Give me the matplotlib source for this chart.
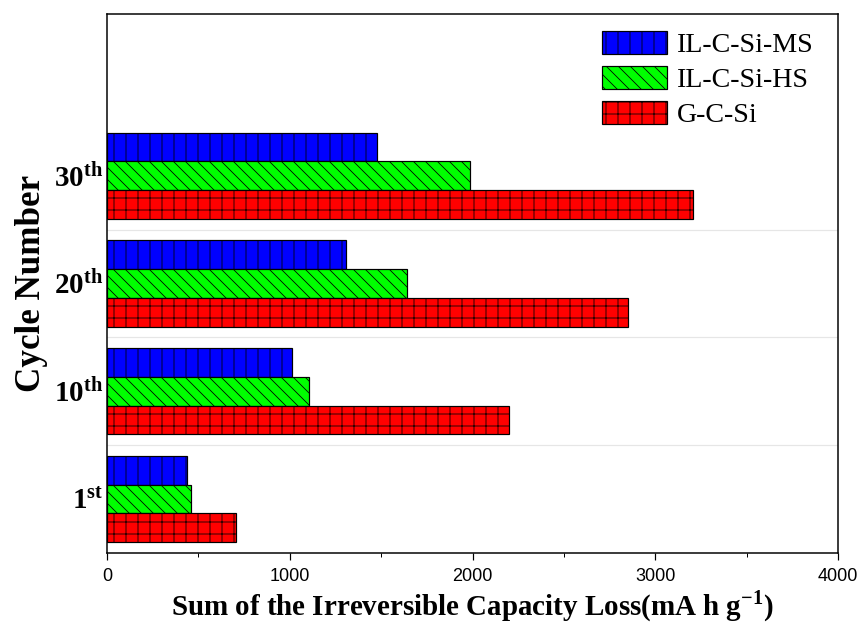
import matplotlib
matplotlib.use("Agg")
import matplotlib.pyplot as plt
import numpy as np

# cycle groups, bottom to top
cycles = ["1", "10", "20", "30"]
suffixes = ["st", "th", "th", "th"]

series_names = ["IL-C-Si-MS", "IL-C-Si-HS", "G-C-Si"]
ms_loss = [438, 1012, 1308, 1477]
hs_loss = [459, 1105, 1642, 1987]
gcsi_loss = [706, 2200, 2851, 3207]

colors = ["#0000ff", "#00ff00", "#ff0000"]
hatches = ["|", "\\\\", "+"]

plt.rcParams["font.family"] = ["Liberation Serif", "DejaVu Serif"]
plt.rcParams["mathtext.fontset"] = "custom"
plt.rcParams["mathtext.rm"] = "Liberation Serif"
plt.rcParams["mathtext.bf"] = "Liberation Serif:bold"
plt.rcParams["hatch.linewidth"] = 0.8
plt.rcParams["hatch.color"] = "black"

DPI = 72
fig = plt.figure(figsize=(866 / DPI, 631 / DPI), dpi=DPI)
ax = fig.add_axes([107 / 866, 78 / 631, 731 / 866, 539 / 631])

y = np.arange(len(cycles))
h = 0.266
for i, (vals, name) in enumerate(zip([ms_loss, hs_loss, gcsi_loss], series_names)):
    ax.barh(y + (1 - i) * h, vals, height=h, color=colors[i], edgecolor="black",
            linewidth=1.2, hatch=hatches[i], label=name, zorder=3)

# light separators between groups
for s in y[:-1] + 0.5:
    ax.axhline(s, color="#e6e6e6", lw=1.2, zorder=1)

ax.set_xlim(0, 4000)
ax.set_ylim(-0.5, 4.5)
ax.set_xticks([0, 1000, 2000, 3000, 4000])
ax.set_xticks([500, 1500, 2500, 3500], minor=True)
ax.tick_params(axis="x", which="major", direction="out", length=7, width=1.2, pad=8)
ax.tick_params(axis="x", which="minor", direction="out", length=4, width=1.0)
for lab in ax.get_xticklabels():
    lab.set_family(["Liberation Sans Narrow", "Liberation Sans"])
    lab.set_fontsize(18)

ax.set_yticks(y)
ax.set_yticklabels([r"$\mathbf{%s^{%s}}$" % (c, s) for c, s in zip(cycles, suffixes)],
                   fontsize=29)
ax.tick_params(axis="y", length=0, pad=4)

for sp in ax.spines.values():
    sp.set_linewidth(1.5)

ax.set_xlabel(r"Sum of the Irreversible Capacity Loss(mA h g$^{\mathbf{-1}}$)",
              fontsize=29, fontweight="bold", labelpad=3)
ax.set_ylabel("Cycle Number", fontsize=35, fontweight="bold", labelpad=6)

ax.legend(loc="upper right", frameon=False, fontsize=28, handlelength=2.35,
          handleheight=0.9, labelspacing=0.28, handletextpad=0.35,
          borderaxespad=0.2, bbox_to_anchor=(0.99, 1.0))

fig.savefig("out.png", dpi=DPI)
